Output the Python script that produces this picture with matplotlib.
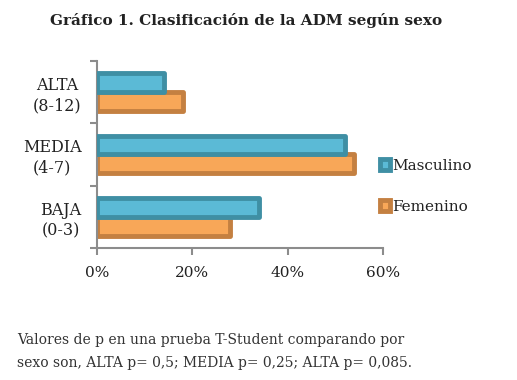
import matplotlib.pyplot as plt
import numpy as np
from matplotlib.ticker import FixedLocator, PercentFormatter

categorias = ["BAJA\n(0-3)", "MEDIA\n(4-7)", "ALTA\n(8-12)"]
masculino = [0.34, 0.52, 0.14]
femenino = [0.28, 0.54, 0.18]
series = ["Masculino", "Femenino"]

plt.rcParams["font.family"] = "DejaVu Serif"

fig = plt.figure(figsize=(5.17, 3.80), dpi=100)
ax = fig.add_axes([0.1876, 0.3474, 0.5532, 0.4921])

y = np.arange(len(categorias))
h = 0.3
b1 = ax.barh(y + h / 2, masculino, height=h, color="#5bbad6", edgecolor="#3f8fa4",
             linewidth=3.5, joinstyle="round", label=series[0], zorder=3)
b2 = ax.barh(y - h / 2, femenino, height=h, color="#f8a758", edgecolor="#c48041",
             linewidth=3.5, joinstyle="round", label=series[1], zorder=2)

ax.set_xlim(0, 0.6)
ax.set_ylim(-0.5, 2.5)
ax.set_xticks([0, 0.2, 0.4, 0.6])
ax.xaxis.set_major_formatter(PercentFormatter(1.0, decimals=0))
ax.set_yticks(y)
ax.set_yticklabels(categorias, fontsize=11.5, linespacing=1.25, multialignment="center",
                   color="#222222")
ax.yaxis.set_minor_locator(FixedLocator([-0.5, 0.5, 1.5, 2.5]))
ax.tick_params(axis="y", which="major", length=0, pad=11)
ax.tick_params(axis="y", which="minor", length=5, width=1.5, color="#8c8c8c")
ax.tick_params(axis="x", length=5, width=1.5, color="#8c8c8c", labelsize=11, pad=8,
               labelcolor="#222222")

for s in ["top", "right"]:
    ax.spines[s].set_visible(False)
for s in ["left", "bottom"]:
    ax.spines[s].set_color("#8c8c8c")
    ax.spines[s].set_linewidth(1.5)

leg = ax.legend(handles=[b1, b2], loc="center left", bbox_to_anchor=(0.94, 0.33),
                frameon=False, fontsize=11, handlelength=0.7, handleheight=0.7,
                handletextpad=0.15, labelspacing=1.75)
for t in leg.get_texts():
    t.set_color("#222222")

fig.text(0.097, 0.947, "Gráfico 1. Clasificación de la ADM según sexo",
         fontsize=11, fontweight="bold", color="#222222", va="center")
fig.text(0.033, 0.105, "Valores de p en una prueba T-Student comparando por",
         fontsize=10, color="#333333", va="center")
fig.text(0.033, 0.045, "sexo son, ALTA p= 0,5; MEDIA p= 0,25; ALTA p= 0,085.",
         fontsize=10, color="#333333", va="center")

fig.savefig("out.png", dpi=100)
